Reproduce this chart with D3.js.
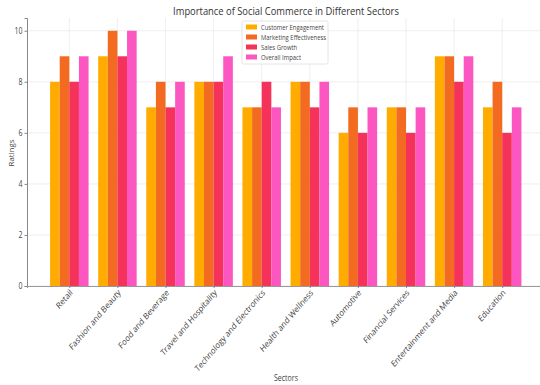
<!DOCTYPE html>
<html><head><meta charset="utf-8">
<script src="https://cdn.jsdelivr.net/npm/d3@7"></script>
<style>
html,body{margin:0;padding:0;background:#fff;}
svg{display:block;font-family:"Open Sans","Noto Sans",sans-serif;}
</style></head>
<body><svg id="c" width="540" height="385"></svg>
<script>
const categories = ["Retail","Fashion and Beauty","Food and Beverage","Travel and Hospitality","Technology and Electronics","Health and Wellness","Automotive","Financial Services","Entertainment and Media","Education"];
const seriesNames = ["Customer Engagement","Marketing Effectiveness","Sales Growth","Overall Impact"];
const customerEngagement = [8,9,7,8,7,8,6,7,9,7];
const marketingEffectiveness = [9,10,8,8,7,8,7,7,9,8];
const salesGrowth = [8,9,7,8,8,7,6,6,8,6];
const overallImpact = [9,10,8,9,7,8,7,7,9,7];
const yTicks = [0,2,4,6,8,10];
const colors = ["#ffab00","#f26b21","#f5325a","#fc56c0"];
const series = [customerEngagement, marketingEffectiveness, salesGrowth, overallImpact];

const svg = d3.select("#c");
const mLeft = 27, mRight = 545, mTop = 18, mBottom = 286;
const x = d3.scaleLinear().domain([-0.88, 9.89]).range([mLeft, mRight]);
const y = d3.scaleLinear().domain([0, 10.5]).range([mBottom, mTop]);
const bw = 0.2;
const SY = 1.17; // vertical stretch of the reference text

// fit a font size so a text element reaches a target length
function fit(sel, target) {
  const node = sel.node();
  const base = 10;
  sel.attr("font-size", base);
  const len = node.getComputedTextLength();
  const fs = base * target / len;
  sel.attr("font-size", fs);
  return fs;
}

// grid
const g = svg.append("g");
g.selectAll(".gy").data(yTicks).join("line")
  .attr("x1", mLeft).attr("x2", 540).attr("y1", d=>y(d)).attr("y2", d=>y(d))
  .attr("stroke", "#ebebeb").attr("stroke-width", 0.8);
g.selectAll(".gx").data(categories).join("line")
  .attr("x1", (d,i)=>x(i)).attr("x2", (d,i)=>x(i)).attr("y1", mTop).attr("y2", mBottom)
  .attr("stroke", "#ebebeb").attr("stroke-width", 0.8);

// bars
series.forEach((vals, k) => {
  svg.append("g").selectAll("rect").data(vals).join("rect")
    .attr("x", (d,i)=>x(i + (k-2)*bw))
    .attr("width", x(bw)-x(0))
    .attr("y", d=>y(d))
    .attr("height", d=>y(0)-y(d))
    .attr("fill", colors[k]);
});

// axes
const yAxis = svg.append("g").attr("transform", `translate(${mLeft},0)`)
  .call(d3.axisLeft(y).tickValues(yTicks).tickSize(2.5).tickPadding(2).tickFormat(d3.format("d")));
yAxis.select(".domain").attr("stroke", "#888").attr("stroke-width", 1);
yAxis.selectAll(".tick line").attr("stroke", "#888");
yAxis.selectAll(".tick text").attr("font-size", 7).attr("fill", "#444").attr("font-family", "Open Sans")
  .attr("dy", null).attr("x", null)
  .attr("transform", `translate(-4.5,0) scale(1,${SY}) translate(0,2.4)`);

const xAxis = svg.append("g").attr("transform", `translate(0,${mBottom})`)
  .call(d3.axisBottom(x).tickValues(d3.range(categories.length)).tickSize(2).tickFormat(i=>categories[i]));
xAxis.select(".domain").attr("stroke", "#999").attr("stroke-width", 1.2);
xAxis.selectAll(".tick line").attr("stroke", "#888");
const xt = xAxis.selectAll(".tick text");
const longest = xt.filter(d => categories[d] === "Technology and Electronics");
const xfs = fit(longest, 92);
xt.attr("font-size", xfs).attr("fill", "#444").attr("font-family", "Open Sans")
  .attr("text-anchor", "end").attr("dy", 0).attr("y", 0)
  .attr("transform", `translate(1.5,5) scale(1,${SY}) rotate(-45) translate(0,${xfs*0.35})`);

// title and labels
const title = svg.append("text").attr("text-anchor", "middle").attr("fill", "#333")
  .attr("transform", `translate(286,14.5) scale(1,${SY})`)
  .text("Importance of Social Commerce in Different Sectors");
fit(title, 226);
const xl = svg.append("text").attr("text-anchor", "middle").attr("fill", "#444")
  .attr("transform", `translate(286,381) scale(1,${SY})`).text("Sectors");
fit(xl, 24);
const yl = svg.append("text").attr("text-anchor", "middle").attr("fill", "#444")
  .attr("transform", `translate(14,153) scale(1,${SY}) rotate(-90)`).text("Ratings");
fit(yl, 23);

// legend
const lg = svg.append("g").attr("transform", "translate(242,21)");
lg.append("rect").attr("width", 86).attr("height", 43).attr("fill", "#fff").attr("fill-opacity", 0.85)
  .attr("stroke", "#ddd").attr("stroke-width", 0.8).attr("rx", 1.5);
let lfs = null;
seriesNames.forEach((n, k) => {
  lg.append("rect").attr("x", 4).attr("y", 3.5 + k*10).attr("width", 11).attr("height", 5).attr("fill", colors[k]);
  const t = lg.append("text").attr("fill", "#444")
    .attr("transform", `translate(19,${8.6 + k*10}) scale(1,${SY})`).text(n);
  if (k === 0) lfs = fit(t, 63); else t.attr("font-size", lfs);
});
</script></body></html>
